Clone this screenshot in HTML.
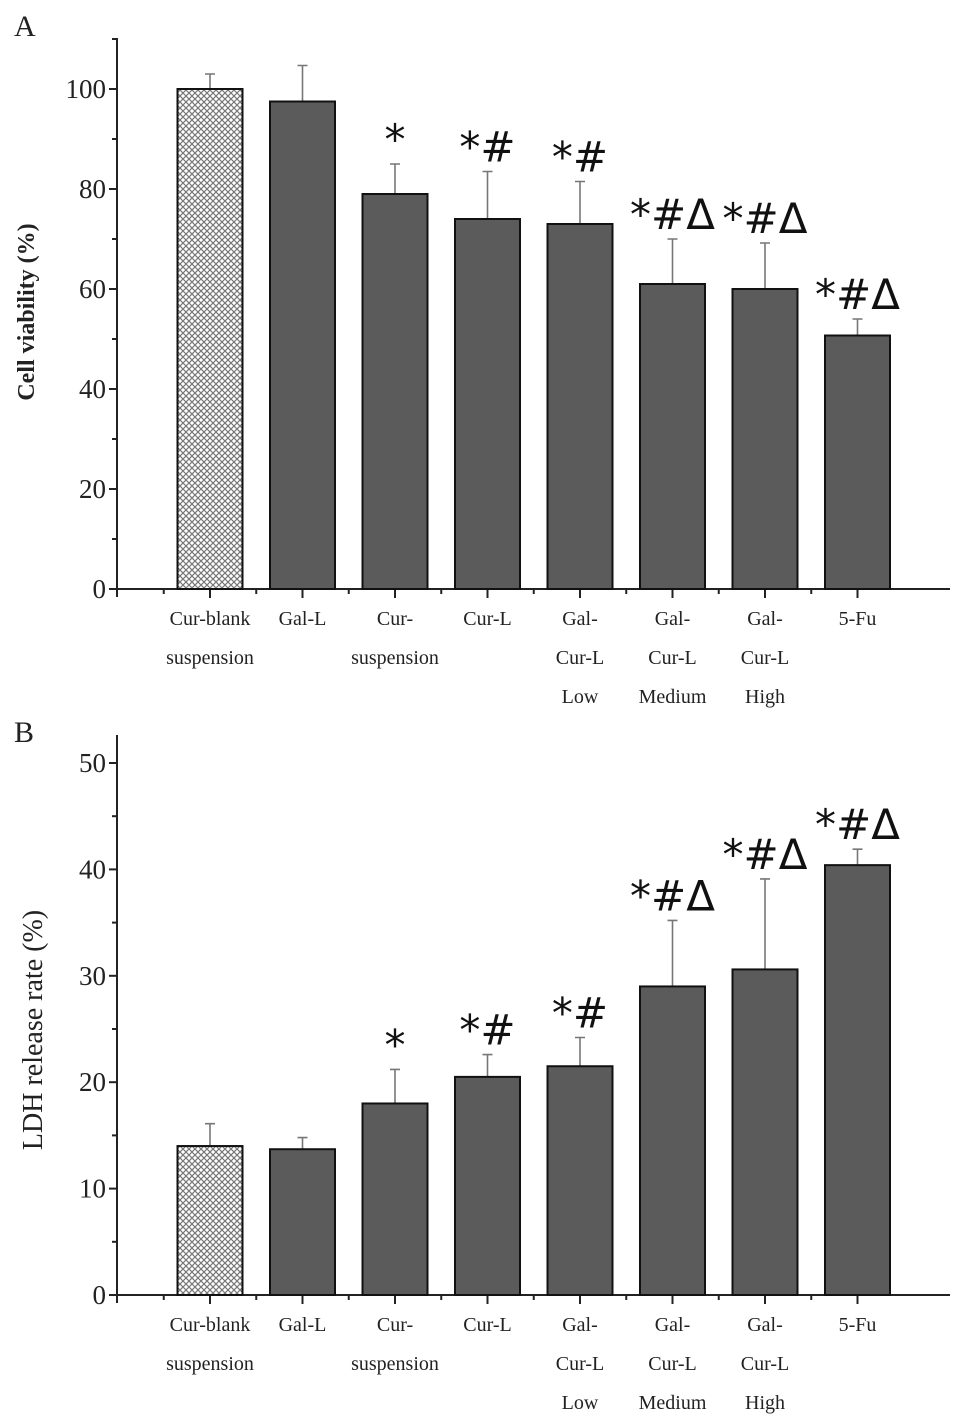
<!DOCTYPE html>
<html><head><meta charset="utf-8"><style>
html,body{margin:0;padding:0;background:#fff}
svg{display:block}
text{font-family:"Liberation Serif",serif;fill:#222}
</style></head><body>
<svg id="chart" width="969" height="1426" viewBox="0 0 969 1426">
<defs>
<pattern id="hatch" width="6" height="6" patternUnits="userSpaceOnUse">
<rect width="6" height="6" fill="#fff"/>
<path d="M0,0 L6,6 M6,0 L0,6" stroke="#777" stroke-width="1.2"/>
</pattern>
</defs>
</svg>
<script>
const categories = [["Cur-blank","suspension"],["Gal-L"],["Cur-","suspension"],["Cur-L"],["Gal-","Cur-L","Low"],["Gal-","Cur-L","Medium"],["Gal-","Cur-L","High"],["5-Fu"]];
const viabilityValues = [100, 97.5, 79, 74, 73, 61, 60, 50.7];
const viabilityErrors = [3, 7.2, 6, 9.5, 8.5, 9, 9.2, 3.3];
const viabilityMarks = ["", "", "*", "*#", "*#", "*#Δ", "*#Δ", "*#Δ"];
const viabilityTicks = [0, 20, 40, 60, 80, 100];
const ldhValues = [14, 13.7, 18, 20.5, 21.5, 29, 30.6, 40.4];
const ldhErrors = [2.1, 1.1, 3.2, 2.1, 2.7, 6.2, 8.5, 1.5];
const ldhMarks = ["", "", "*", "*#", "*#", "*#Δ", "*#Δ", "*#Δ"];
const ldhTicks = [0, 10, 20, 30, 40, 50];

const NS = "http://www.w3.org/2000/svg";
const svg = document.getElementById("chart");
function mk(tag, attrs, parent){const e=document.createElementNS(NS,tag);for(const k in attrs)e.setAttribute(k,attrs[k]);(parent||svg).appendChild(e);return e;}

function panel(p){
  const g = mk("g",{});
  
  
  const x0=117, step=92.5, first=210, bw=65, xEnd=950;
  const xc = i => first + i*step;
  const y = v => p.y0 - v*p.scale;
  const L = mk("text",{x:14,y:p.letterY,"font-size":30},g); L.textContent=p.letter;
  
  
  const ya = mk("line",{x1:x0,y1:p.top,x2:x0,y2:p.y0+8,stroke:"#222","stroke-width":2},g);
  
  
  const xa = mk("line",{x1:x0,y1:p.y0,x2:xEnd,y2:p.y0,stroke:"#222","stroke-width":2},g);
  
  
  p.ticks.forEach((t,i)=>{
    mk("line",{x1:x0-8,y1:y(t),x2:x0,y2:y(t),stroke:"#222","stroke-width":2},g);
    const tl = mk("text",{x:x0-11,y:y(t)+9,"font-size":27,"text-anchor":"end"},g); tl.textContent=t;
    
    
    if(i<p.ticks.length-1){const m=(t+p.ticks[i+1])/2; mk("line",{x1:x0-5,y1:y(m),x2:x0,y2:y(m),stroke:"#222","stroke-width":2},g);}
  });
  const last=p.ticks[p.ticks.length-1], m2=last+(p.ticks[1]-p.ticks[0])/2;
  if(y(m2)>p.top) mk("line",{x1:x0-5,y1:y(m2),x2:x0,y2:y(m2),stroke:"#222","stroke-width":2},g);
  const at = mk("text",{x:0,y:0,"font-size":p.titleSize,"font-weight":p.titleWeight,"text-anchor":"middle",transform:`translate(${p.titleX},${p.titleY}) rotate(-90)`},g);
  at.textContent=p.title;
  
  
  categories.forEach((c,i)=>{
    const cx=xc(i);
    mk("line",{x1:cx,y1:p.y0,x2:cx,y2:p.y0+9,stroke:"#222","stroke-width":2},g);
    mk("line",{x1:cx-step/2,y1:p.y0,x2:cx-step/2,y2:p.y0+5,stroke:"#222","stroke-width":2},g);
    const v=p.values[i], e=p.errors[i];
    const eb = mk("path",{d:`M${cx},${y(v)} V${y(v+e)} M${cx-5},${y(v+e)} H${cx+5}`,stroke:"#777","stroke-width":1.6,fill:"none"},g);
    
    
    const b = mk("rect",{x:cx-bw/2,y:y(v),width:bw,height:p.y0-y(v),fill:i===0?"url(#hatch)":"#5b5b5b",stroke:"#111","stroke-width":2},g);
    
    
    if(p.marks[i]){
      const t = mk("text",{x:cx,y:y(v+e)-10,"font-size":42,"text-anchor":"middle",style:'font-family:"DejaVu Sans",sans-serif;fill:#111'},g);
      t.textContent=p.marks[i];
      
      
    }
    c.forEach((line,j)=>{
      const t = mk("text",{x:cx,y:p.y0+36+j*39,"font-size":20,"text-anchor":"middle"},g);
      t.textContent=line;
      
      
    });
  });
}
panel({name:"panel-a-cell-viability",letter:"A",letterY:36,y0:589,scale:5,top:38,ticks:viabilityTicks,values:viabilityValues,errors:viabilityErrors,marks:viabilityMarks,title:"Cell viability (%)",titleSize:24,titleWeight:"bold",titleX:34,titleY:312});
panel({name:"panel-b-ldh-release",letter:"B",letterY:742,y0:1295,scale:10.64,top:735,ticks:ldhTicks,values:ldhValues,errors:ldhErrors,marks:ldhMarks,title:"LDH release rate (%)",titleSize:28,titleWeight:"normal",titleX:42,titleY:1030});
</script>
</body></html>
